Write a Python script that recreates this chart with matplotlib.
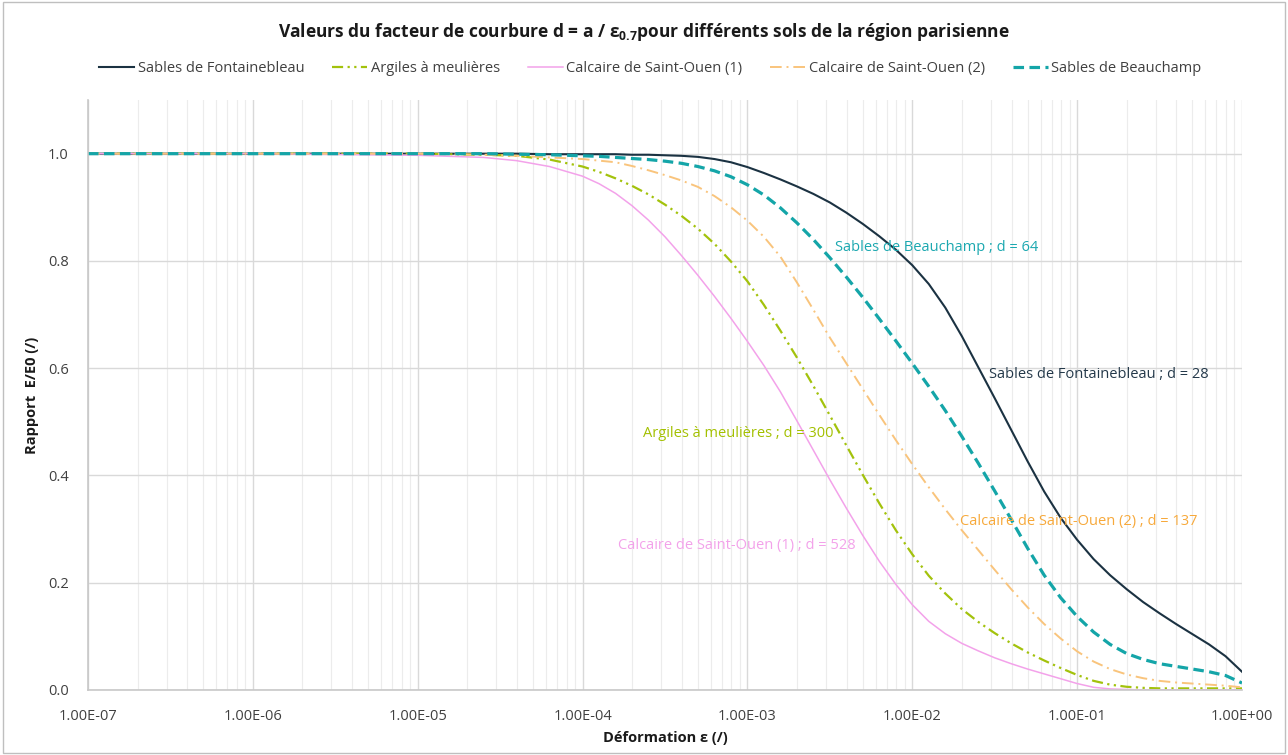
import numpy as np
import matplotlib
matplotlib.use("Agg")
import matplotlib.pyplot as plt
from matplotlib.ticker import FixedLocator, LogLocator, NullFormatter, FuncFormatter
from matplotlib.patches import Rectangle

plt.rcParams['font.family'] = ['Open Sans', 'DejaVu Sans']
plt.rcParams['mathtext.fontset'] = 'custom'
plt.rcParams['mathtext.rm'] = 'Open Sans'
plt.rcParams['mathtext.bf'] = 'Open Sans:bold'

# exposants de la déformation (log10 eps)
log_eps = [-7, -6, -5, -4.6, -4.4, -4.2, -4.0, -3.9, -3.8, -3.7, -3.6, -3.5, -3.4, -3.3, -3.2, -3.1,
           -3.0, -2.9, -2.8, -2.7, -2.6, -2.5, -2.4, -2.3, -2.2, -2.1, -2.0, -1.9, -1.8, -1.7, -1.6,
           -1.5, -1.4, -1.3, -1.2, -1.1, -1.0, -0.9, -0.8, -0.7, -0.6, -0.5, -0.4, -0.3, -0.2, -0.1, 0.0]

fontainebleau = [1.0, 1.0, 1.0, 1.0, 1.0, 0.999, 0.999, 0.999, 0.999, 0.998, 0.998, 0.997, 0.996, 0.994,
                 0.990, 0.984, 0.975, 0.964, 0.952, 0.939, 0.925, 0.909, 0.890, 0.869, 0.846, 0.821,
                 0.792, 0.757, 0.713, 0.660, 0.602, 0.544, 0.485, 0.426, 0.370, 0.321, 0.280, 0.244,
                 0.214, 0.188, 0.164, 0.143, 0.123, 0.104, 0.085, 0.063, 0.034]
argiles = [1.0, 1.0, 1.0, 0.998, 0.996, 0.989, 0.976, 0.966, 0.954, 0.940, 0.924, 0.905, 0.884, 0.860,
           0.832, 0.799, 0.762, 0.718, 0.670, 0.620, 0.567, 0.512, 0.456, 0.401, 0.348, 0.298, 0.253,
           0.213, 0.180, 0.151, 0.127, 0.106, 0.087, 0.070, 0.055, 0.041, 0.028, 0.017, 0.010, 0.006,
           0.004, 0.003, 0.003, 0.003, 0.003, 0.003, 0.003]
calcaire1 = [1.0, 1.0, 0.997, 0.993, 0.987, 0.976, 0.958, 0.944, 0.926, 0.903, 0.876, 0.845, 0.810,
             0.773, 0.734, 0.693, 0.650, 0.605, 0.556, 0.502, 0.447, 0.392, 0.339, 0.288, 0.240, 0.197,
             0.159, 0.128, 0.105, 0.087, 0.073, 0.060, 0.049, 0.039, 0.030, 0.021, 0.012, 0.005, 0.002,
             0.001, 0.0, 0.0, 0.0, 0.0, 0.0, 0.0, 0.0]
calcaire2 = [1.0, 1.0, 1.0, 0.998, 0.996, 0.993, 0.990, 0.987, 0.984, 0.977, 0.969, 0.960, 0.950, 0.938,
             0.921, 0.900, 0.875, 0.845, 0.808, 0.760, 0.709, 0.657, 0.609, 0.561, 0.513, 0.466, 0.421,
             0.378, 0.337, 0.298, 0.261, 0.224, 0.188, 0.154, 0.123, 0.096, 0.072, 0.053, 0.039, 0.029,
             0.022, 0.017, 0.014, 0.012, 0.010, 0.008, 0.005]
beauchamp = [1.0, 1.0, 1.0, 1.0, 0.999, 0.998, 0.996, 0.995, 0.993, 0.991, 0.989, 0.986, 0.982, 0.976,
             0.968, 0.957, 0.942, 0.923, 0.899, 0.871, 0.840, 0.806, 0.770, 0.732, 0.692, 0.651, 0.609,
             0.566, 0.521, 0.473, 0.423, 0.371, 0.318, 0.264, 0.214, 0.172, 0.137, 0.108, 0.085, 0.068,
             0.057, 0.049, 0.044, 0.039, 0.034, 0.027, 0.013]

noms = ['Sables de Fontainebleau', 'Argiles à meulières', 'Calcaire de Saint-Ouen (1)',
        'Calcaire de Saint-Ouen (2)', 'Sables de Beauchamp']
valeurs_d = [28, 300, 528, 137, 64]

couleurs = ['#1b3242', '#a3c20c', '#f3a2ea', '#f9c47c', '#14a5a8']
couleurs_txt = ['#24394a', '#a3c000', '#f3a2ea', '#f7a93b', '#1ba8b0']
styles = ['-', (0, (5, 2, 1, 2, 1, 2)), '-', (0, (6, 2.5, 1, 2.5)), (0, (3.3, 1.7))]
epaisseurs = [1.5, 1.6, 1.1, 1.4, 2.3]

# position des étiquettes (x, y) en coordonnées des données
pos_etiquettes = [(0.029, 0.588), (2.31e-4, 0.478), (1.65e-4, 0.269), (0.0196, 0.315), (3.42e-3, 0.825)]

eps = np.power(10.0, log_eps)
series = [fontainebleau, argiles, calcaire1, calcaire2, beauchamp]

fig = plt.figure(figsize=(12.88, 7.55), dpi=100)
ax = fig.add_axes([0.0683, 0.0861, 0.896, 0.7814])

for i in range(len(series)):
    ax.plot(eps, series[i], color=couleurs[i], linestyle=styles[i], linewidth=epaisseurs[i],
            label=noms[i])

for i in range(len(series)):
    x, y = pos_etiquettes[i]
    ax.text(x, y, f"{noms[i]} ; d = {valeurs_d[i]}", color=couleurs_txt[i], fontsize=10.5,
            va='center', ha='left')

ax.set_xscale('log')
ax.set_xlim(1e-7, 1)
ax.set_ylim(0, 1.1)
ax.xaxis.set_major_locator(FixedLocator([10.0 ** k for k in range(-7, 1)]))
ax.xaxis.set_minor_locator(LogLocator(base=10, subs=np.arange(2, 10), numticks=20))
ax.xaxis.set_minor_formatter(NullFormatter())
ax.xaxis.set_major_formatter(FuncFormatter(lambda v, p: f"{v:.2E}"))
ax.set_yticks([0.0, 0.2, 0.4, 0.6, 0.8, 1.0])
ax.yaxis.set_major_formatter(FuncFormatter(lambda v, p: f"{v:.1f}"))

ax.grid(True, which='major', color='#d9d9d9', linewidth=1.0)
ax.grid(True, which='minor', axis='x', color='#ececec', linewidth=0.8)
ax.set_axisbelow(True)
ax.tick_params(which='both', length=0, labelsize=10.5, colors='#404040')
ax.tick_params(axis='x', pad=14)
ax.tick_params(axis='y', pad=14)
for s in ['top', 'right']:
    ax.spines[s].set_visible(False)
for s in ['left', 'bottom']:
    ax.spines[s].set_color('#c8c8c8')
    ax.spines[s].set_linewidth(1.2)

ax.set_xlabel('Déformation ε (/)', fontsize=10.5, fontweight='bold', labelpad=5, color='#1a1a1a')
ax.set_ylabel('Rapport  E/E0 (/)', fontsize=10.5, fontweight='bold', labelpad=6, color='#1a1a1a')

fig.text(0.5, 0.957, r"Valeurs du facteur de courbure d = a / ε$_{\mathbf{0.7}}$pour différents sols de la région parisienne",
         ha='center', va='center', fontsize=12.5, fontweight='bold', color='#1a1a1a')

leg = fig.legend(loc='center', bbox_to_anchor=(0.505, 0.909), ncol=5, frameon=False, fontsize=10.5,
                 handlelength=2.4, columnspacing=1.9, handletextpad=0.25)
for t in leg.get_texts():
    t.set_color('#404040')

fig.patches.append(Rectangle((0.002, 0.002), 0.996, 0.996, transform=fig.transFigure,
                             fill=False, edgecolor='#bfbfbf', linewidth=1.0))

fig.savefig('out.png', dpi=100)
